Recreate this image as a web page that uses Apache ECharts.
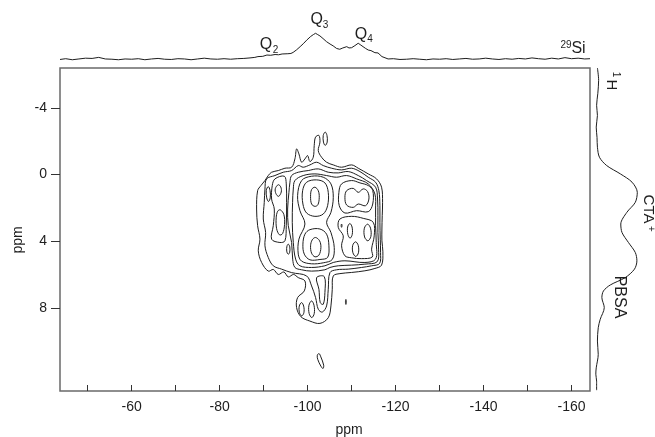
<!DOCTYPE html>
<html>
<head>
<meta charset="utf-8">
<script src="https://cdn.jsdelivr.net/npm/echarts@6/dist/echarts.min.js"></script>
<style>
  html, body { margin: 0; padding: 0; background: #fff; }
  #chart { width: 655px; height: 437px; }
</style>
</head>
<body>
<div id="chart"></div>
<script>
// 29Si (horizontal) / 1H (vertical) HETCOR-style map with both 1D projections.

// ---- axes ----
const siRange = [-164.2, -43.7];       // 29Si shift range, ppm
const hRange = [-6.4, 13];             // 1H shift range, ppm
const siTicks = [-50, -60, -70, -80, -90, -100, -110, -120, -130, -140, -150, -160];
const siTickLabels = [-60, -80, -100, -120, -140, -160];
const hTicks = [-4, 0, 4, 8];

// ---- 29Si projection: [ppm, relative intensity] ----
const siProjection = [
  [-43.7, 0.00], [-45.0, 0.03], [-46.5, -0.01], [-48.0, 0.02], [-49.5, 0.05], [-51.0, 0.04],
  [-52.5, 0.08], [-54.0, 0.02], [-55.5, 0.01], [-57.0, -0.01], [-58.5, 0.02], [-60.0, 0.01],
  [-61.5, 0.03], [-63.0, -0.01], [-64.5, 0.02], [-66.0, 0.04], [-67.5, 0.01], [-69.0, 0.00],
  [-70.5, 0.03], [-72.0, 0.02], [-73.5, -0.01], [-75.0, 0.02], [-76.5, 0.05], [-78.0, 0.02],
  [-79.5, 0.01], [-81.0, 0.03], [-82.5, 0.01], [-84.0, 0.03], [-85.5, 0.04], [-86.9, 0.06],
  [-88.0, 0.08], [-88.7, 0.11], [-89.8, 0.12], [-90.75, 0.17], [-91.6, 0.16], [-92.6, 0.19],
  [-93.4, 0.18], [-94.2, 0.21], [-95.5, 0.22], [-96.2, 0.23], [-96.7, 0.27], [-97.5, 0.37],
  [-98.3, 0.49], [-99.0, 0.60], [-99.8, 0.74], [-100.7, 0.88], [-101.3, 0.95], [-101.8, 1.00],
  [-102.3, 0.95], [-102.8, 0.90], [-103.5, 0.80], [-104.3, 0.68], [-105.1, 0.59], [-105.8, 0.52],
  [-106.6, 0.42], [-107.3, 0.39], [-108.0, 0.44], [-108.9, 0.49], [-109.4, 0.44], [-110.0, 0.45],
  [-110.75, 0.53], [-111.5, 0.62], [-112.1, 0.55], [-112.6, 0.49], [-113.2, 0.42], [-113.8, 0.36],
  [-114.4, 0.34], [-115.3, 0.26], [-116.0, 0.25], [-116.4, 0.21], [-116.9, 0.11], [-117.3, 0.04],
  [-118.3, 0.02], [-119.5, 0.03], [-121.0, 0.00], [-122.5, 0.01], [-124.0, 0.03], [-125.5, 0.01],
  [-127.0, -0.01], [-128.5, 0.02], [-130.0, 0.01], [-131.5, 0.03], [-133.0, 0.00], [-134.5, 0.02],
  [-136.0, 0.04], [-137.5, 0.01], [-139.0, 0.02], [-140.5, 0.05], [-142.0, 0.02], [-143.5, 0.00],
  [-145.0, 0.03], [-146.5, 0.01], [-148.0, 0.04], [-149.5, 0.02], [-151.0, 0.06], [-152.5, 0.03],
  [-154.0, 0.01], [-155.5, 0.05], [-157.0, 0.02], [-158.5, 0.07], [-160.0, 0.03], [-161.5, 0.05],
  [-163.0, 0.02], [-164.2, 0.03]
];

// ---- 1H projection: [relative intensity, ppm] ----
const hProjection = [
  [0.01, -6.4], [0.04, -5.66], [0.02, -4.88], [-0.01, -4.16], [0.01, -3.55], [-0.02, -2.85],
  [0.00, -2.23], [0.01, -1.64], [0.06, -1.04], [0.24, -0.54], [0.58, -0.04], [0.87, 0.46],
  [1.00, 1.07], [0.95, 1.67], [0.74, 2.27], [0.59, 2.97], [0.62, 3.48], [0.78, 4.08],
  [0.95, 4.68], [0.99, 5.18], [0.93, 5.68], [0.70, 6.19], [0.33, 6.63], [0.16, 6.99],
  [0.12, 7.39], [0.18, 7.99], [0.08, 8.69], [0.03, 9.2], [0.01, 10.0], [0.03, 10.8],
  [-0.02, 11.61], [-0.03, 11.99], [-0.01, 12.41], [-0.01, 12.95]
];

// ---- contour lines of the 2D map: closed paths of [29Si ppm, 1H ppm] ----
const level1 = [
  [-91.05, 0.06], [-91.81, -0.14], [-93.33, -0.24], [-94.84, -0.38], [-96.36, -0.44], [-97.11, -0.94],
  [-97.49, -1.54], [-98.02, -1.24], [-98.63, -0.74], [-99.39, -0.94], [-99.99, -1.14], [-100.52, -0.78],
  [-101.28, -1.04], [-101.5, -1.75], [-101.8, -2.25], [-102.57, -2.35], [-102.8, -1.95], [-102.42, -1.44],
  [-103.17, -1.04], [-104.31, -0.74], [-105.83, -0.58], [-107.72, -0.44], [-110.0, -0.58], [-111.51, -0.38],
  [-113.78, -0.04], [-115.67, 0.26], [-116.81, 0.76], [-117.04, 1.67], [-116.96, 2.47], [-116.89, 3.27],
  [-116.89, 3.98], [-117.11, 4.64], [-116.81, 5.44], [-115.3, 5.64], [-113.02, 5.78], [-110.0, 5.88],
  [-107.34, 5.95], [-105.83, 6.09], [-105.6, 6.89], [-105.3, 7.89], [-104.69, 8.6], [-102.8, 8.94],
  [-100.52, 8.8], [-98.48, 8.54], [-97.49, 7.99], [-97.72, 7.39], [-99.24, 6.99], [-99.39, 6.39],
  [-97.87, 6.19], [-96.8, 6.0], [-95.6, 6.15], [-94.6, 5.85], [-93.33, 6.0], [-92.2, 5.7],
  [-91.05, 5.8], [-89.54, 5.28], [-88.78, 4.58], [-89.16, 3.88], [-88.63, 3.07], [-88.4, 2.07],
  [-88.63, 0.97], [-89.39, 0.66], [-90.3, 0.36]
];
const level2 = [
  [-90.67, 0.26], [-92.57, 0.06], [-94.46, -0.14], [-96.36, -0.24], [-97.87, -0.54], [-99.0, -0.44],
  [-100.52, -0.58], [-102.04, -0.74], [-103.55, -0.54], [-105.45, -0.38], [-107.72, -0.28], [-110.0, -0.38],
  [-111.89, -0.18], [-113.78, 0.16], [-115.45, 0.46], [-116.2, 0.97], [-116.43, 1.87], [-116.43, 2.87],
  [-116.51, 3.88], [-116.58, 4.68], [-116.36, 5.34], [-114.54, 5.48], [-112.27, 5.58], [-109.24, 5.68],
  [-106.58, 5.72], [-105.07, 5.89], [-104.69, 6.89], [-104.31, 7.89], [-103.33, 8.26], [-102.42, 8.09],
  [-101.81, 7.39], [-100.9, 6.69], [-99.77, 6.09], [-96.36, 5.89], [-94.08, 5.68], [-92.19, 5.48],
  [-91.05, 4.98], [-90.3, 4.28], [-90.45, 3.48], [-89.92, 2.67], [-90.14, 1.67], [-90.3, 0.87]
];
const level3 = [
  [-96.36, 0.06], [-97.87, -0.14], [-100.14, -0.24], [-102.42, -0.34], [-104.69, -0.14], [-106.96, -0.1],
  [-109.24, -0.18], [-111.51, 0.06], [-113.4, 0.36], [-115.45, 0.76], [-115.9, 1.47], [-115.98, 2.47],
  [-115.98, 3.48], [-116.13, 4.48], [-115.83, 5.23], [-113.02, 5.38], [-110.0, 5.44], [-106.96, 5.48],
  [-105.07, 5.58], [-103.93, 5.72], [-100.9, 5.8], [-98.63, 5.72], [-97.11, 5.58], [-96.6, 5.08],
  [-96.36, 4.08], [-95.6, 3.07], [-95.45, 2.07], [-95.75, 1.07], [-95.98, 0.46]
];
const level4 = [
  [-97.11, 0.36], [-99.0, 0.06], [-101.66, -0.04], [-104.31, 0.06], [-106.58, 0.16], [-108.86, 0.06],
  [-111.13, 0.26], [-113.78, 0.56], [-115.3, 1.17], [-115.45, 2.07], [-115.45, 3.07], [-115.6, 4.08],
  [-115.45, 5.08], [-113.02, 5.28], [-108.48, 5.18], [-105.83, 5.28], [-103.93, 5.48], [-100.9, 5.58],
  [-98.25, 5.48], [-97.27, 5.08], [-96.74, 4.08], [-96.51, 2.87], [-96.58, 1.67], [-96.74, 0.87]
];
const q3Pair = [
  [-98.63, 0.36], [-100.9, 0.1], [-103.55, 0.16], [-105.3, 0.56], [-105.83, 1.37], [-105.3, 2.27],
  [-104.31, 2.87], [-105.3, 3.48], [-106.05, 4.38], [-105.6, 5.1], [-103.55, 5.3], [-100.9, 5.36],
  [-98.63, 5.2], [-97.87, 4.78], [-98.02, 3.88], [-99.39, 2.97], [-98.25, 2.17], [-97.72, 1.27]
];
const q3Upper = [
  [-99.77, 0.46], [-102.04, 0.32], [-103.93, 0.5], [-104.69, 1.07], [-104.54, 1.87], [-103.55, 2.37],
  [-101.66, 2.51], [-99.77, 2.31], [-98.93, 1.77], [-98.86, 0.97]
];
const q3Lower = [
  [-100.52, 3.31], [-102.8, 3.27], [-104.31, 3.58], [-104.84, 4.28], [-104.54, 4.98], [-102.8, 5.1],
  [-100.52, 5.12], [-99.24, 4.78], [-98.93, 4.18], [-99.39, 3.58]
];
const q3UpperCore = [
  [-101.66, 0.76], [-102.42, 0.97], [-102.64, 1.37], [-102.34, 1.81], [-101.66, 1.91], [-100.9, 1.77],
  [-100.67, 1.31], [-100.9, 0.9]
];
const q3LowerCore = [
  [-101.81, 3.78], [-102.72, 3.98], [-103.02, 4.38], [-102.57, 4.84], [-101.66, 4.94], [-100.9, 4.72],
  [-100.67, 4.28], [-101.05, 3.92]
];
const q4UpperOuter = [
  [-107.72, 0.56], [-110.0, 0.36], [-111.89, 0.5], [-113.78, 0.66], [-114.8, 0.95], [-114.8, 1.77],
  [-113.78, 2.23], [-111.13, 2.17], [-108.48, 2.31], [-107.19, 1.87], [-107.11, 1.07]
];
const q4UpperInner = [
  [-108.86, 0.97], [-110.37, 0.83], [-111.51, 1.07], [-112.64, 0.86], [-113.63, 1.02], [-113.93, 1.47],
  [-113.17, 1.87], [-111.51, 1.77], [-110.37, 1.97], [-108.86, 1.83], [-108.48, 1.37]
];
const q4Lower = [
  [-107.34, 2.67], [-110.0, 2.51], [-112.64, 2.63], [-114.92, 2.87], [-115.14, 3.68], [-114.54, 4.48],
  [-114.7, 4.95], [-112.27, 5.05], [-110.0, 5.0], [-108.48, 4.88], [-107.72, 4.28], [-108.1, 3.68],
  [-106.96, 3.17]
];
const q4Spot1 = [[-109.61, 2.94], [-110.1, 3.15], [-110.14, 3.6], [-109.65, 3.82], [-109.15, 3.6], [-109.1, 3.15]];
const q4Spot2 = [[-110.9, 4.04], [-111.5, 4.25], [-111.55, 4.7], [-110.95, 4.92], [-110.3, 4.7], [-110.25, 4.25]];
const q4Spot3 = [[-113.63, 2.98], [-114.3, 3.22], [-114.38, 3.72], [-113.7, 3.98], [-112.95, 3.75], [-112.9, 3.22]];
const q4Dot = [[-107.72, 2.97], [-107.82, 3.07], [-107.72, 3.17], [-107.62, 3.07]];
const q2Region = [
  [-92.57, 0.26], [-94.7, 0.1], [-95.14, 0.56], [-95.22, 1.67], [-95.14, 3.07], [-94.84, 3.98],
  [-93.7, 4.08], [-91.81, 3.88], [-92.19, 3.07], [-92.42, 2.07], [-91.81, 1.47], [-91.96, 0.66]
];
const q2Spot1 = [[-93.33, 0.61], [-93.9, 0.75], [-94.0, 1.05], [-93.4, 1.31], [-92.8, 1.15], [-92.65, 0.85]];
const q2Spot2 = [[-91.05, 0.72], [-91.45, 0.95], [-91.5, 1.4], [-91.1, 1.62], [-90.7, 1.4], [-90.6, 0.95]];
const q2Spot3 = [
  [-93.8, 2.12], [-94.6, 2.4], [-94.75, 3.0], [-94.3, 3.55], [-93.6, 3.62], [-92.95, 3.25],
  [-92.85, 2.6], [-93.2, 2.2]
];
const q2Spot4 = [[-95.6, 4.18], [-95.95, 4.35], [-95.9, 4.7], [-95.55, 4.78], [-95.25, 4.6], [-95.3, 4.3]];
const stemInner = [[-102.04, 6.19], [-103.78, 6.13], [-103.93, 7.09], [-103.55, 7.79], [-102.87, 7.69], [-102.57, 6.89]];
const stemSpot1 = [[-98.63, 7.69], [-99.1, 7.9], [-99.15, 8.3], [-98.65, 8.49], [-98.15, 8.3], [-98.1, 7.9]];
const stemSpot2 = [[-100.9, 7.59], [-101.45, 7.85], [-101.5, 8.35], [-100.95, 8.59], [-100.35, 8.35], [-100.3, 7.85]];
const topSpot = [[-104.0, -2.55], [-104.4, -2.35], [-104.45, -1.95], [-104.0, -1.75], [-103.6, -1.95], [-103.55, -2.35]];
const lowSpot = [[-102.2, 10.85], [-102.6, 10.75], [-103.0, 10.95], [-103.65, 11.45], [-103.5, 11.65], [-103.0, 11.5], [-102.3, 11.1]];
const sideDot = [[-108.7, 7.5], [-108.8, 7.65], [-108.7, 7.8], [-108.6, 7.65]];

const contours = [
  level1, level2, level3, level4, q3Pair, q3Upper, q3Lower, q3UpperCore, q3LowerCore,
  q4UpperOuter, q4UpperInner, q4Lower, q4Spot1, q4Spot2, q4Spot3, q4Dot,
  q2Region, q2Spot1, q2Spot2, q2Spot3, q2Spot4,
  stemInner, stemSpot1, stemSpot2, topSpot, lowSpot, sideDot
];

const FONT = "'Liberation Sans', Arial, Helvetica, sans-serif";
const INK = '#1e1e1e';

const chart = echarts.init(document.getElementById('chart'), null, { renderer: 'canvas' });

function txt(text, x, y, size, rotation) {
  return {
    type: 'text', x: x, y: y, rotation: rotation || 0, silent: true,
    style: { text: text, x: 0, y: 0, fill: INK, font: size + 'px ' + FONT, align: 'center', verticalAlign: 'middle' }
  };
}

const CW = -Math.PI / 2;

chart.setOption({
  animation: false,
  backgroundColor: '#ffffff',
  grid: [
    { left: 60, top: 68, width: 530, height: 323, show: true, borderColor: '#6a6a6a', borderWidth: 1.5, backgroundColor: 'transparent' },
    { left: 60, top: 33.3, width: 530, height: 28.8, show: false },
    { left: 593, top: 68, width: 44.3, height: 323, show: false }
  ],
  xAxis: [
    {
      gridIndex: 0, type: 'value', min: siRange[0], max: siRange[1], inverse: true, position: 'bottom',
      axisLine: { show: false, onZero: false }, splitLine: { show: false },
      axisTick: { show: true, inside: true, length: 6, customValues: siTicks, lineStyle: { color: '#333', width: 1 } },
      axisLabel: { customValues: siTickLabels, margin: 9, fontSize: 14, color: INK, fontFamily: FONT }
    },
    { gridIndex: 1, type: 'value', min: siRange[0], max: siRange[1], inverse: true, show: false },
    { gridIndex: 2, type: 'value', min: -0.1, max: 1, show: false }
  ],
  yAxis: [
    {
      gridIndex: 0, type: 'value', min: hRange[0], max: hRange[1], inverse: true, position: 'left',
      axisLine: { show: false, onZero: false }, splitLine: { show: false },
      axisTick: { show: true, inside: false, length: 9, customValues: hTicks, lineStyle: { color: '#333', width: 1 } },
      axisLabel: { customValues: hTicks, margin: 13, fontSize: 14, color: INK, fontFamily: FONT }
    },
    { gridIndex: 1, type: 'value', min: -0.1, max: 1, show: false },
    { gridIndex: 2, type: 'value', min: hRange[0], max: hRange[1], inverse: true, show: false }
  ],
  series: [
    {
      type: 'custom', coordinateSystem: 'cartesian2d', xAxisIndex: 0, yAxisIndex: 0,
      data: contours.map((c, i) => [c[0][0], c[0][1], i]),
      encode: { x: 0, y: 1 },
      silent: true,
      renderItem: function (params, api) {
        const path = contours[api.value(2)];
        const pts = path.map(p => api.coord(p));
        return {
          type: 'polygon',
          shape: { points: pts, smooth: 0.35 },
          style: { fill: 'none', stroke: INK, lineWidth: 1 }
        };
      }
    },
    {
      type: 'line', xAxisIndex: 1, yAxisIndex: 1, data: siProjection,
      showSymbol: false, symbol: 'none', clip: false, silent: true,
      lineStyle: { color: INK, width: 1 }
    },
    {
      type: 'line', xAxisIndex: 2, yAxisIndex: 2, data: hProjection,
      showSymbol: false, symbol: 'none', clip: false, silent: true, smooth: 0.3,
      lineStyle: { color: INK, width: 1 }
    }
  ],
  graphic: [
    txt('ppm', 18, 240, 14, Math.PI / 2),
    txt('ppm', 349, 430, 14),
    txt('Q', 266, 44.5, 16), txt('2', 275.5, 50, 10),
    txt('Q', 316.7, 19.5, 16), txt('3', 325.5, 25, 10),
    txt('Q', 361, 34.5, 16), txt('4', 370, 39.5, 10),
    txt('29', 566, 45.5, 10), txt('Si', 578.5, 49, 16),
    txt('1', 615.5, 74.5, 10, CW), txt('H', 611.5, 85, 15, CW),
    txt('CTA', 648, 209, 15, CW), txt('+', 651, 229, 10, CW),
    txt('PBSA', 619, 297, 16, CW)
  ]
});
</script>
</body>
</html>
